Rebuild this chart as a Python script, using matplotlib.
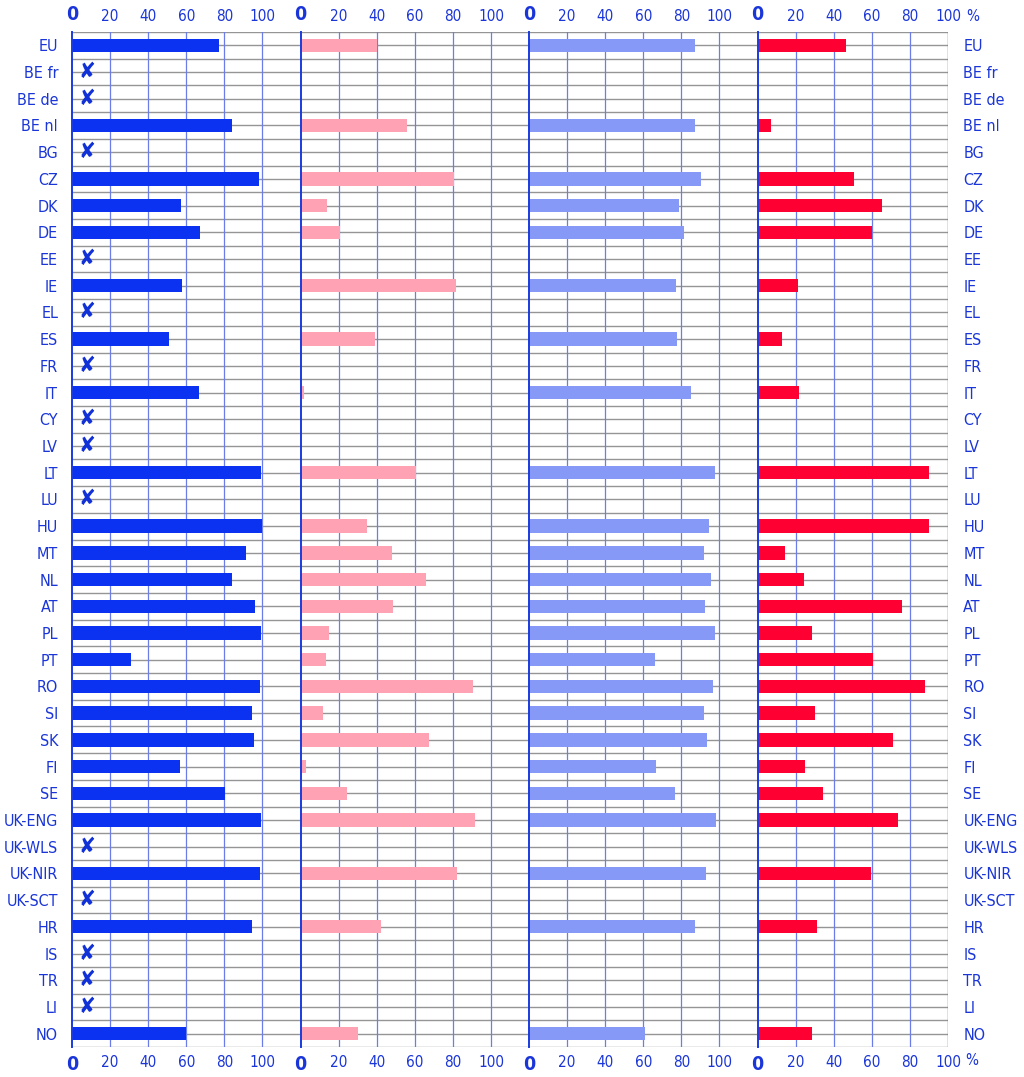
import numpy as np
import matplotlib
matplotlib.use("Agg")
import matplotlib.pyplot as plt
from matplotlib import font_manager as fm

nan = np.nan
categories = ["EU", "BE fr", "BE de", "BE nl", "BG", "CZ", "DK", "DE", "EE", "IE",
              "EL", "ES", "FR", "IT", "CY", "LV", "LT", "LU", "HU", "MT", "NL", "AT",
              "PL", "PT", "RO", "SI", "SK", "FI", "SE", "UK-ENG", "UK-WLS", "UK-NIR",
              "UK-SCT", "HR", "IS", "TR", "LI", "NO"]

series1 = [77, nan, nan, 84, nan, 98, 57, 67, nan, 58,
           nan, 51, nan, 66.5, nan, nan, 99.5, nan, 100, 91.4, 84.2, 96,
           99.3, 31, 98.8, 94.7, 95.4, 56.7, 80.2, 99.1, nan, 98.6,
           nan, 94.6, nan, nan, nan, 60.1]
series2 = [40, nan, nan, 56, nan, 80.4, 13.7, 20.8, nan, 81.4,
           nan, 38.9, nan, 1.6, nan, nan, 60.9, nan, 34.9, 47.8, 65.8, 48.7,
           15.2, 13.3, 90.5, 11.9, 67.4, 2.8, 24.5, 91.6, nan, 82.3,
           nan, 42.4, nan, nan, nan, 30.3]
series3 = [87, nan, nan, 86.9, nan, 90.2, 78.8, 81.3, nan, 77.1,
           nan, 77.6, nan, 84.8, nan, nan, 97.5, nan, 94.7, 91.9, 95.8, 92.5,
           97.9, 66.4, 96.7, 91.8, 93.3, 66.9, 76.7, 98.2, nan, 93.0,
           nan, 87.0, nan, nan, nan, 60.8]
series4 = [46.5, nan, nan, 7.0, nan, 50.8, 65.1, 59.9, nan, 21.0,
           nan, 13.0, nan, 21.9, nan, nan, 90.0, nan, 90.0, 14.4, 24.5, 75.8,
           28.5, 60.8, 87.7, 29.9, 71.3, 25.0, 34.2, 73.7, nan, 59.7,
           nan, 31.2, nan, nan, nan, 28.4]

tick_values = [0, 20, 40, 60, 80, 100]
colors = ["#0a32f0", "#ffa3b4", "#8799f6", "#ff0033"]
label_color = "#1a35d8"
grid_blue = "#6a7de8"
grid_grey = "#959595"
spine_blue = "#1a3ce0"

# look for an installed condensed / narrow sans face
condensed = None
for f in fm.fontManager.ttflist:
    st = str(f.stretch).lower()
    if ("narrow" in f.name.lower() or "condensed" in st or "condensed" in f.name.lower()
            or "condensed" in f.fname.lower()) and f.style == "normal":
        w = f.weight if isinstance(f.weight, int) else 400
        if w in (400, "normal", "regular"):
            condensed = f
            break

if condensed is not None:
    plt.rcParams["font.family"] = [condensed.name, "DejaVu Sans"]
    plt.rcParams["font.stretch"] = condensed.stretch
    lab_size = 11.5
    tick_size = 11
else:
    plt.rcParams["font.family"] = ["Roboto", "DejaVu Sans"]
    lab_size = 10.5
    tick_size = 10

fig = plt.figure(figsize=(10.24, 10.77), dpi=100)
left, right = 72 / 1024, 948 / 1024
top, bottom = 1 - 32 / 1077, 1 - 1047 / 1077
gs = fig.add_gridspec(1, 4, width_ratios=[120, 120, 120, 100], wspace=0,
                      left=left, right=right, top=top, bottom=bottom)

n = len(categories)
ypos = np.arange(n)
all_series = [series1, series2, series3, series4]

for k in range(4):
    ax = fig.add_subplot(gs[0, k])
    xmax = 120 if k < 3 else 100
    ax.set_xlim(0, xmax)
    ax.set_ylim(n - 0.5, -0.5)
    vals = np.array(all_series[k], dtype=float)
    mask = ~np.isnan(vals)
    ax.barh(ypos[mask], vals[mask], height=0.5, color=colors[k], zorder=3)
    for yy in np.arange(-0.5, n, 0.5):
        ax.axhline(yy, color=grid_grey, lw=1.0, zorder=1)
    for xv in tick_values[1:]:
        ax.axvline(xv, color=grid_blue, lw=0.9, zorder=2)
    for s in ["top", "bottom", "right"]:
        ax.spines[s].set_visible(False)
    ax.spines["left"].set_color(spine_blue)
    ax.spines["left"].set_linewidth(1.4)
    ax.spines["left"].set_zorder(4)
    ax.set_yticks([])
    ax.set_xticks(tick_values)
    ax.set_xticklabels([str(v) for v in tick_values])
    ax.tick_params(axis="x", length=0, top=True, labeltop=True, bottom=True,
                   labelbottom=True, pad=6, colors=label_color, labelsize=tick_size)
    for t in ax.xaxis.get_major_ticks():
        if t.label1.get_text() == "0":
            for lab in (t.label1, t.label2):
                lab.set_fontweight("bold")
                lab.set_fontsize(14)
    if k == 0:
        ax.set_yticks(ypos)
        ax.set_yticklabels(categories)
        ax.tick_params(axis="y", length=0, pad=10, colors=label_color, labelsize=lab_size)
        for i in ypos[~mask]:
            ax.text(8, i, "\u2718", ha="center", va="center", color="#1030d8",
                    fontsize=16, family="DejaVu Sans", zorder=5)
    if k == 3:
        ax.axvline(100, color=grid_blue, lw=0.9, zorder=2)
        ax2 = ax.twinx()
        ax2.set_ylim(n - 0.5, -0.5)
        ax2.set_yticks(ypos)
        ax2.set_yticklabels(categories)
        ax2.tick_params(axis="y", length=0, pad=11, colors=label_color, labelsize=lab_size)
        for s in ax2.spines.values():
            s.set_visible(False)
        ax.text(1.095, 1.008, "%", transform=ax.transAxes, ha="left", va="bottom",
                color=label_color, fontsize=tick_size)
        ax.text(1.09, -0.006, "%", transform=ax.transAxes, ha="left", va="top",
                color=label_color, fontsize=tick_size)

fig.savefig("out.png", dpi=100)
